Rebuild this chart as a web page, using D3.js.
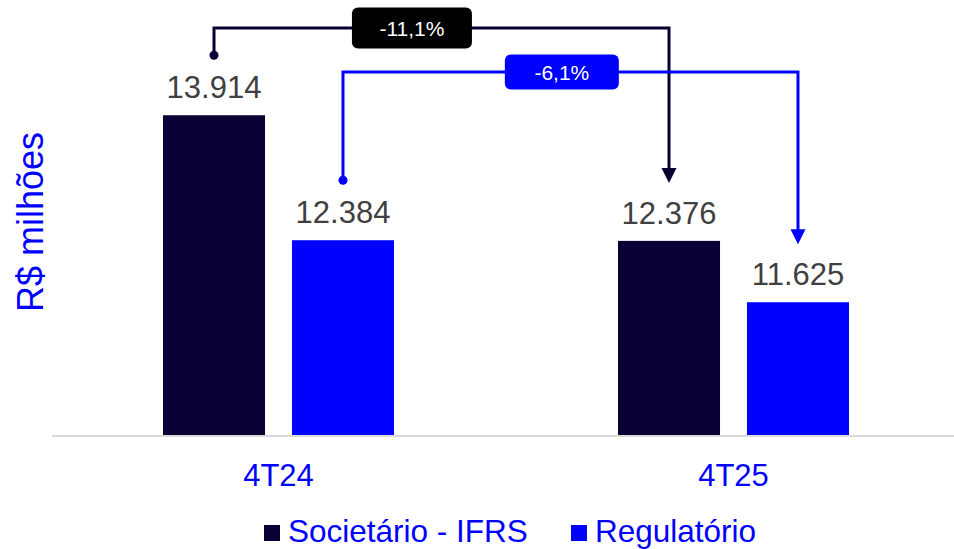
<!DOCTYPE html>
<html>
<head>
<meta charset="utf-8">
<script src="https://cdn.jsdelivr.net/npm/d3@7"></script>
<style>
  body { margin: 0; background: #fff; }
  text { font-family: "Liberation Sans", Arial, sans-serif; }
</style>
</head>
<body>
<div id="chart"></div>
<script>
// Data
var periods = ["4T24", "4T25"];
var series = ["Societário - IFRS", "Regulatório"];
var societario = [13914, 12376];
var regulatorio = [12384, 11625];
var changeLabels = ["-11,1%", "-6,1%"];
var colors = ["#0b0033", "#0000ff"];

var width = 954, height = 549;
var baseY = 435;

var svg = d3.select("#chart").append("svg")
  .attr("width", width)
  .attr("height", height);

var fmt = d3.formatLocale({decimal: ",", thousands: ".", grouping: [3], currency: ["R$", ""]}).format(",.0f");

// Scales (value axis starts at 10.000, hidden)
var x0 = d3.scaleBand().domain(periods).range([51, 961]);
var x1 = d3.scaleBand().domain(series).range([-115.5, 115.5]).paddingInner(0.209);
var y = d3.scaleLinear().domain([10000, 15000]).range([baseY, baseY - 408.5]);

var seriesValues = [societario, regulatorio];
var rows = [];
periods.forEach(function(p, i) {
  series.forEach(function(s, j) {
    rows.push({period: p, series: s, value: seriesValues[j][i], k: j});
  });
});

function cx(d) { return x0(d.period) + x0.bandwidth() / 2 + x1(d.series) + x1.bandwidth() / 2; }

// Bars
svg.selectAll(".bar")
  .data(rows)
  .enter().append("rect")
  .attr("class", "bar")
  .attr("x", function(d) { return cx(d) - x1.bandwidth() / 2; })
  .attr("width", x1.bandwidth())
  .attr("y", function(d) { return y(d.value); })
  .attr("height", function(d) { return baseY - y(d.value); })
  .attr("fill", function(d) { return colors[d.k]; });

// Baseline
svg.append("line")
  .attr("x1", 52).attr("x2", width)
  .attr("y1", baseY + 1).attr("y2", baseY + 1)
  .attr("stroke", "#d9d9d9")
  .attr("stroke-width", 2);

// Value labels
svg.selectAll(".val")
  .data(rows)
  .enter().append("text")
  .attr("class", "val")
  .attr("x", cx)
  .attr("y", function(d) { return y(d.value) - 17; })
  .attr("text-anchor", "middle")
  .attr("font-size", 31)
  .attr("fill", "#404040")
  .text(function(d) { return fmt(d.value); });

// Category labels
svg.selectAll(".cat")
  .data(periods)
  .enter().append("text")
  .attr("class", "cat")
  .attr("x", function(d) { return x0(d) + x0.bandwidth() / 2; })
  .attr("y", 486)
  .attr("text-anchor", "middle")
  .attr("font-size", 31)
  .attr("fill", "#0000ff")
  .text(function(d) { return d; });

// Y title
svg.append("text")
  .attr("transform", "translate(43,222) rotate(-90)")
  .attr("text-anchor", "middle")
  .attr("font-size", 36)
  .attr("fill", "#0000ff")
  .text("R$ milhões");

// Change connectors
var connectors = [
  {from: rows[0], to: rows[2], lineY: 28, boxW: 120, boxH: 41, pos: 0.435, label: changeLabels[0], color: colors[0], boxColor: "#000000"},
  {from: rows[1], to: rows[3], lineY: 72, boxW: 114, boxH: 35, pos: 0.481, label: changeLabels[1], color: colors[1], boxColor: "#0000ff"}
];

connectors.forEach(function(c) {
  var xa = cx(c.from), ya = y(c.from.value) - 60;
  var xb = cx(c.to), yb = y(c.to.value) - 58;
  var g = svg.append("g");
  g.append("path")
    .attr("d", "M" + xa + "," + ya + "V" + c.lineY + "H" + xb + "V" + (yb - 12))
    .attr("fill", "none")
    .attr("stroke", c.color)
    .attr("stroke-width", 3);
  g.append("circle")
    .attr("cx", xa).attr("cy", ya).attr("r", 4.5)
    .attr("fill", c.color);
  g.append("path")
    .attr("d", "M" + (xb - 7.5) + "," + (yb - 15) + "L" + (xb + 7.5) + "," + (yb - 15) + "L" + xb + "," + yb + "Z")
    .attr("fill", c.color);
  var bx = xa + (xb - xa) * c.pos;
  g.append("rect")
    .attr("x", bx - c.boxW / 2)
    .attr("y", c.lineY - c.boxH / 2)
    .attr("width", c.boxW)
    .attr("height", c.boxH)
    .attr("rx", 6)
    .attr("fill", c.boxColor);
  g.append("text")
    .attr("x", bx)
    .attr("y", c.lineY + 7.5)
    .attr("text-anchor", "middle")
    .attr("font-size", 21)
    .attr("fill", "#fff")
    .text(c.label);
});

// Legend
var legendX = [264, 571];
var legend = svg.selectAll(".leg")
  .data(series)
  .enter().append("g")
  .attr("class", "leg")
  .attr("transform", function(d, i) { return "translate(" + legendX[i] + ",525)"; });
legend.append("rect")
  .attr("width", 16).attr("height", 16)
  .attr("fill", function(d, i) { return colors[i]; });
legend.append("text")
  .attr("x", 24)
  .attr("y", 17)
  .attr("font-size", 31.5)
  .attr("fill", "#0000ff")
  .text(function(d) { return d; });
</script>
</body>
</html>
